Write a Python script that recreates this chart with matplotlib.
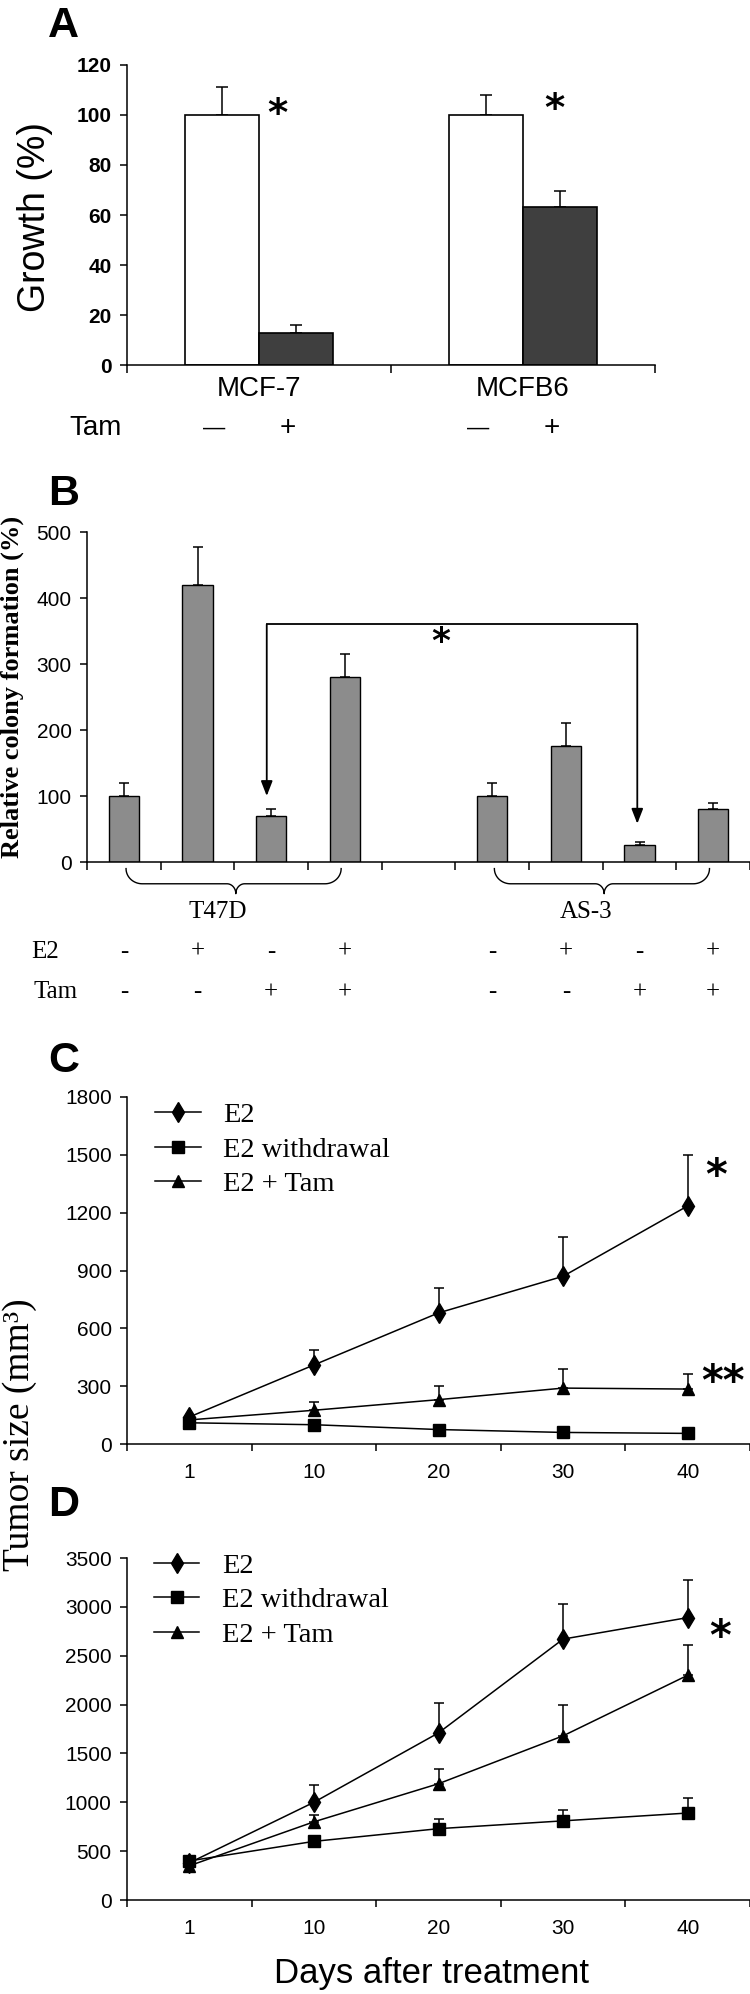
import numpy as np
import matplotlib
matplotlib.use('Agg')
import matplotlib.pyplot as plt
from matplotlib import font_manager

# ---- panel A: growth (%) ----
a_cells = ['MCF-7', 'MCFB6']
a_ctrl = [100, 100]
a_ctrl_err = [11, 8]
a_tam = [13, 63]
a_tam_err = [3, 6.5]
a_tam_signs = ['\u2014', '+']

# ---- panel B: relative colony formation (%) ----
b_groups = ['T47D', 'AS-3']
b_pos = [0, 1, 2, 3, 5, 6, 7, 8]
b_vals = [100, 420, 70, 280, 100, 175, 25, 80]
b_err = [20, 58, 10, 35, 20, 35, 5, 10]
b_e2 = ['-', '+', '-', '+', '-', '+', '-', '+']
b_tam = ['-', '-', '+', '+', '-', '-', '+', '+']

# ---- panels C / D: tumor size (mm3) ----
days = ['1', '10', '20', '30', '40']
series = ['E2', 'E2 withdrawal', 'E2 + Tam']
c_e2 = [140, 410, 680, 870, 1235]
c_e2_err = [0, 80, 130, 205, 265]
c_wd = [110, 100, 75, 60, 55]
c_wd_err = [0, 0, 0, 0, 0]
c_tam = [125, 175, 230, 290, 285]
c_tam_err = [0, 45, 70, 100, 80]
d_e2 = [380, 1000, 1710, 2670, 2890]
d_e2_err = [0, 175, 310, 360, 385]
d_wd = [400, 600, 730, 810, 890]
d_wd_err = [0, 0, 95, 110, 150]
d_tam = [350, 800, 1190, 1680, 2300]
d_tam_err = [0, 75, 150, 320, 305]

_names = {f.name for f in font_manager.fontManager.ttflist}
NARROW = 'Liberation Sans Narrow' if 'Liberation Sans Narrow' in _names else 'Liberation Sans'
SANS = 'Liberation Sans'
SERIF = 'Liberation Serif'
plt.rcParams['font.family'] = NARROW

W, H = 750, 1994
fig = plt.figure(figsize=(W / 100, H / 100), dpi=100)


def axes_px(left, top, right, bottom):
    return fig.add_axes([left / W, 1 - bottom / H, (right - left) / W, (bottom - top) / H])


def fxy(x, y):
    return x / W, 1 - y / H


def style(ax, ylim, ystep, ncat, labels=None, pad=6):
    for s in ('top', 'right'):
        ax.spines[s].set_visible(False)
    for s in ('left', 'bottom'):
        ax.spines[s].set_linewidth(1.1)
    ax.set_ylim(*ylim)
    ax.set_yticks(np.arange(ylim[0], ylim[1] + 1, ystep))
    ax.set_xlim(-0.5, ncat - 0.5)
    ax.set_xticks(np.arange(ncat + 1) - 0.5)
    ax.set_xticklabels([])
    ax.tick_params(axis='both', which='major', direction='out', length=5, width=1.1,
                   labelsize=15, pad=6)
    if labels is not None:
        ax.set_xticks(np.arange(len(labels)), minor=True)
        ax.set_xticklabels(labels, minor=True)
        ax.tick_params(axis='x', which='minor', length=0, labelsize=15, pad=pad)


def upper_err(ax, x, y, err, capsize=3.5):
    x = np.asarray(x, float)
    y = np.asarray(y, float)
    err = np.asarray(err, float)
    m = err > 0
    if m.any():
        ax.errorbar(x[m], y[m], yerr=[np.zeros(m.sum()), err[m]], fmt='none',
                    ecolor='black', elinewidth=1.1, capsize=capsize, capthick=1.1, zorder=1)


def brace(ax, x0, x1, xm, y_top, y_mid, y_tip, rx=0.22, rt=0.12):
    t = np.linspace(0, np.pi / 2, 20)
    ry, ry2 = y_top - y_mid, y_mid - y_tip
    xs = np.r_[x0 + rx - rx * np.cos(t), xm - rt + rt * np.sin(t),
               xm + rt - rt * np.cos(t), x1 - rx + rx * np.sin(t)]
    ys = np.r_[y_top - ry * np.sin(t), y_tip + ry2 * np.cos(t),
               y_tip + ry2 * np.sin(t), y_top - ry * np.cos(t)]
    ax.plot(xs, ys, color='black', lw=1.0, clip_on=False)


# panel letters
for letter, base in (('A', 37), ('B', 505), ('C', 1072), ('D', 1516)):
    fig.text(*fxy(48, base), letter, family=SANS, weight='bold', fontsize=31, va='baseline')

# ================= A =================
axA = axes_px(127, 65, 655, 365)
xa = np.arange(len(a_cells))
w = 0.28
axA.bar(xa - w / 2, a_ctrl, w, color='white', edgecolor='black', lw=1.2, zorder=2)
axA.bar(xa + w / 2, a_tam, w, color='#3f3f3f', edgecolor='black', lw=1.2, zorder=2)
upper_err(axA, xa - w / 2, a_ctrl, a_ctrl_err, capsize=4)
upper_err(axA, xa + w / 2, a_tam, a_tam_err, capsize=4)
style(axA, (0, 120), 20, 2, a_cells, pad=8)
for lab in axA.get_yticklabels():
    lab.set_fontweight('bold')
for lab in axA.get_xticklabels(minor=True):
    lab.set_family(SANS)
    lab.set_fontsize(20)
axA.tick_params(axis='x', which='major', length=6)
axA.text(xa[0] + 0.07, 100, '*', family='DejaVu Sans', weight='bold', fontsize=28,
         ha='center', va='center')
axA.text(xa[1] + 0.12, 102, '*', family='DejaVu Sans', weight='bold', fontsize=28,
         ha='center', va='center')
trA = axA.get_xaxis_transform()
axA.text(-0.72, -0.21, 'Tam', transform=trA, family=SANS, fontsize=20, ha='left', va='center')
for i in range(len(a_cells)):
    for j, s in enumerate(a_tam_signs):
        axA.text(xa[i] + (j - 0.5) * w - 0.03, -0.21, s, transform=trA, family=SANS,
                 fontsize=20 if s == '+' else 16, ha='center', va='center')
fig.text(*fxy(35, 217), 'Growth (%)', family=SANS, fontsize=27, rotation=90,
         ha='center', va='center')

# ================= B =================
axB = axes_px(87, 532, 750, 862)
axB.bar(b_pos, b_vals, 0.41, color='#8c8c8c', edgecolor='black', lw=1.0, zorder=2)
upper_err(axB, b_pos, b_vals, b_err, capsize=3.5)
style(axB, (0, 500), 100, 9)
axB.tick_params(axis='x', which='major', length=6)
fig.text(*fxy(12, 687), 'Relative colony formation (%)', family=SERIF, weight='bold',
         fontsize=19, rotation=90, ha='center', va='center')

for g in range(len(b_groups)):
    p = b_pos[4 * g:4 * g + 4]
    brace(axB, p[0] + 0.03, p[-1] - 0.05, (p[0] + p[-1]) / 2 + 0.02, -10, -33, -48)
    axB.text((p[0] + p[-1]) / 2 - 0.22, -76, b_groups[g], family=SERIF, fontsize=18,
             ha='center', va='center', clip_on=False)
axB.text(-1.26, -136, 'E2', family=SERIF, fontsize=18, ha='left', va='center')
axB.text(-1.22, -197, 'Tam', family=SERIF, fontsize=18, ha='left', va='center')
for p, s1, s2 in zip(b_pos, b_e2, b_tam):
    axB.text(p, -136, s1, family=SERIF, fontsize=18, ha='center', va='center')
    axB.text(p, -197, s2, family=SERIF, fontsize=18, ha='center', va='center')

# significance bracket between T47D and AS-3 (E2-, Tam+)
xl, xr = b_pos[2] - 0.06, b_pos[6] - 0.03
axB.plot([xl, xr], [360, 360], color='black', lw=1.3)
arrow = dict(arrowstyle='-|>,head_length=0.9,head_width=0.35', color='black', lw=1.3,
             shrinkA=0, shrinkB=0)
axB.annotate('', xy=(xl, 100), xytext=(xl, 360), arrowprops=arrow)
axB.annotate('', xy=(xr, 58), xytext=(xr, 360), arrowprops=arrow)
axB.text(4.3, 334, '*', family='DejaVu Sans', weight='bold', fontsize=26,
         ha='center', va='center')

# ================= C / D =================
markers = ['d', 's', '^']
msizes = [10, 8.5, 9]


def growth_panel(ax, ylim, ystep, vals, errs, legend_anchor, labelspacing):
    x = np.arange(len(days))
    for v, e in zip(vals, errs):
        upper_err(ax, x, v, e, capsize=3.5)
    for v, name, m, ms in zip(vals, series, markers, msizes):
        ax.plot(x, v, color='black', lw=1.1, marker=m, markersize=ms,
                markerfacecolor='black', markeredgecolor='black', label=name, zorder=3)
    style(ax, ylim, ystep, len(days), days, pad=14)
    ax.legend(loc='upper left', bbox_to_anchor=legend_anchor, frameon=False,
              prop={'family': SERIF, 'size': 20.5}, handlelength=1.6, handletextpad=0.8,
              borderpad=0, borderaxespad=0, labelspacing=labelspacing)


axC = axes_px(127, 1097, 750, 1444)
growth_panel(axC, (0, 1800), 300, [c_e2, c_wd, c_tam], [c_e2_err, c_wd_err, c_tam_err],
             (0.045, 0.985), 0.3)
axC.text(4.23, 1385, '*', family='DejaVu Sans', weight='bold', fontsize=30,
         ha='center', va='center', clip_on=False)
axC.text(4.28, 316, '**', family='DejaVu Sans', weight='bold', fontsize=30,
         ha='center', va='center', clip_on=False)

axD = axes_px(127, 1558, 750, 1900)
growth_panel(axD, (0, 3500), 500, [d_e2, d_wd, d_tam], [d_e2_err, d_wd_err, d_tam_err],
             (0.043, 1.015), 0.3)
axD.text(4.26, 2680, '*', family='DejaVu Sans', weight='bold', fontsize=30,
         ha='center', va='center', clip_on=False)

fig.text(*fxy(20, 1435), 'Tumor size (mm\u00b3)', family=SERIF, fontsize=27, rotation=90,
         ha='center', va='center')
fig.text(*fxy(432, 1973), 'Days after treatment', family=SANS, fontsize=25,
         ha='center', va='center')

fig.savefig('out.png', dpi=100)
